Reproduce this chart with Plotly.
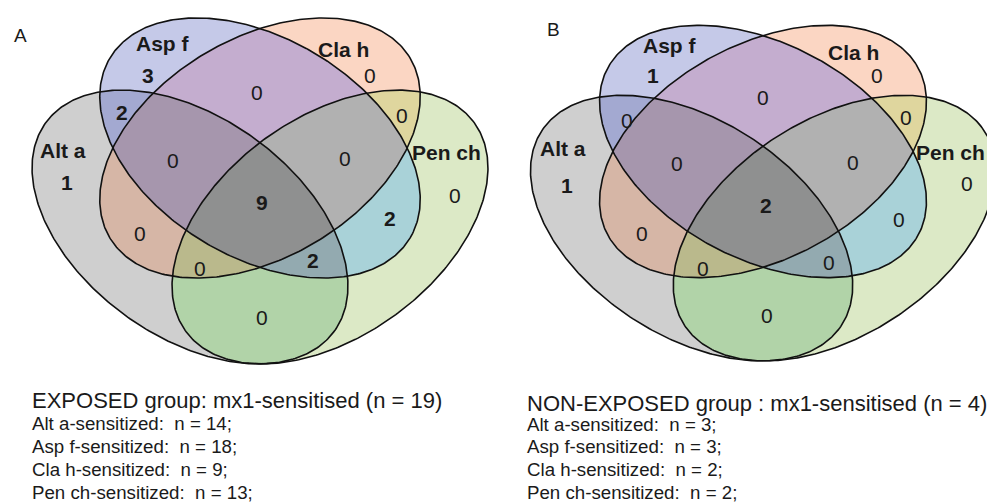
import numpy as np
import plotly.graph_objects as go

# ---------------- data ----------------
set_names = ["Alt a", "Asp f", "Cla h", "Pen ch"]          # bit 1, 2, 4, 8
region_keys = [1, 2, 4, 8, 3, 6, 12, 5, 10, 9, 7, 14, 13, 11, 15]
exposed_counts = [1, 3, 0, 0, 2, 0, 0, 0, 2, 0, 0, 0, 0, 2, 9]
nonexposed_counts = [1, 1, 0, 0, 0, 0, 0, 0, 0, 0, 0, 0, 0, 0, 2]
panel_letters = ["A", "B"]
group_titles = ["EXPOSED group: mx1-sensitised", "NON-EXPOSED group : mx1-sensitised"]

# ---------------- layout / style ----------------
W, H = 987, 503
FONT = "Liberation Sans, Arial, sans-serif"
TXT = "#1a1a1a"

# base ellipse geometry relative to the panel centre (screen coords, y down)
# (ex, ey, a, b, angle_deg)
ellipses = {
    1: (-70.0, 79.5, 178.0, 109.6, 35.8),    # Alt a
    2: (0.0, 0.5, 175.0, 109.4, 31.0),       # Asp f
    4: (0.0, 0.5, 175.0, 109.4, -31.0),      # Cla h
    8: (70.0, 79.5, 178.0, 109.6, -35.8),    # Pen ch
}
# panel transforms: centre x, centre y, scale x, scale y
panels = [(260.0, 147.5, 1.0, 1.0), (763.0, 151.0, 1.02, 0.97)]

region_colors = {1: "#cfcfcf", 2: "#c5c9e8", 3: "#a3a9d1", 4: "#fbd6c3",
                 5: "#d6b6a6", 6: "#c4adcf", 7: "#a696ad", 8: "#dce9c6",
                 9: "#b1d3a8", 10: "#a9d2d8", 11: "#93aab0", 12: "#dfd69e",
                 13: "#bab98c", 14: "#b1b1b1", 15: "#8f9090"}

set_label_pos = [
    {1: (63, 150), 2: (163, 43), 4: (343, 49), 8: (446, 152)},
    {1: (563, 148), 2: (670, 45), 4: (853, 52), 8: (950, 152)},
]
count_pos = [
    {1: (67, 182), 2: (148, 75), 4: (370, 75), 8: (455, 195), 3: (122, 112),
     6: (257, 92), 12: (402, 115), 5: (140, 233), 10: (390, 218), 9: (262, 317),
     7: (173, 160), 14: (345, 158), 13: (200, 268), 11: (313, 260), 15: (262, 202)},
    {1: (567, 185), 2: (653, 75), 4: (877, 75), 8: (967, 183), 3: (627, 120),
     6: (763, 97), 12: (906, 117), 5: (642, 233), 10: (899, 219), 9: (767, 315),
     7: (677, 163), 14: (853, 162), 13: (703, 268), 11: (829, 262), 15: (766, 205)},
]
letter_pos = [(20, 35), (553, 29)]
text_x = [30, 525]
title_y = [400, 403]
line_y0 = [423, 424]
line_dy = [23.0, 22.8]


def inside(u, v, e):
    ex, ey, a, b, ang = e
    t = np.deg2rad(ang)
    du, dv = u - ex, v - ey
    p = du * np.cos(t) + dv * np.sin(t)
    q = -du * np.sin(t) + dv * np.cos(t)
    return (p / a) ** 2 + (q / b) ** 2 <= 1.0


# ---------------- region fill (heatmap of membership) ----------------
xs = np.arange(0, W) + 0.5
ys = np.arange(0, 375) + 0.5
X, Y = np.meshgrid(xs, ys)
mask = np.zeros(X.shape, dtype=int)
for pi, (cx, cy, sx, sy) in enumerate(panels):
    sel = (X < 495) if pi == 0 else (X >= 495)
    U = (X - cx) / sx
    V = (Y - cy) / sy
    for bit, e in ellipses.items():
        mask = mask + np.where(sel & inside(U, V, e), bit, 0)
Z = np.where(mask > 0, mask.astype(float), np.nan)

cs = []
for k in range(1, 16):
    cs.append([(k - 1) / 15, region_colors[k]])
    cs.append([k / 15, region_colors[k]])

fig = go.Figure()
fig.add_trace(go.Heatmap(x=xs, y=ys, z=Z, colorscale=cs, zmin=0.5, zmax=15.5,
                         showscale=False, hoverinfo="skip", zsmooth=False))

# ---------------- outlines ----------------
tt = np.linspace(0, 2 * np.pi, 400)
for (cx, cy, sx, sy) in panels:
    for bit in [1, 2, 4, 8]:
        ex, ey, a, b, ang = ellipses[bit]
        t = np.deg2rad(ang)
        u = ex + a * np.cos(tt) * np.cos(t) - b * np.sin(tt) * np.sin(t)
        v = ey + a * np.cos(tt) * np.sin(t) + b * np.sin(tt) * np.cos(t)
        fig.add_trace(go.Scatter(x=cx + sx * u, y=cy + sy * v, mode="lines",
                                 line=dict(color="#111111", width=1.6),
                                 hoverinfo="skip", showlegend=False))

# ---------------- text ----------------
ann = []
counts_all = [exposed_counts, nonexposed_counts]
for pi in range(2):
    counts = counts_all[pi]
    ann.append(dict(x=letter_pos[pi][0], y=letter_pos[pi][1], text=panel_letters[pi],
                    font=dict(size=19, color=TXT, family=FONT)))
    for bit, name in zip([1, 2, 4, 8], set_names):
        x, y = set_label_pos[pi][bit]
        ann.append(dict(x=x, y=y, text="<b>%s</b>" % name,
                        font=dict(size=21, color=TXT, family=FONT)))
    for key, c in zip(region_keys, counts):
        x, y = count_pos[pi][key]
        txt = "<b>%d</b>" % c if c > 0 else "%d" % c
        ann.append(dict(x=x, y=y, text=txt, font=dict(size=21, color=TXT, family=FONT)))
    total = sum(counts)
    ann.append(dict(x=text_x[pi], y=title_y[pi], xanchor="left",
                    text="%s (n = %d)" % (group_titles[pi], total),
                    font=dict(size=22, color=TXT, family=FONT)))
    for j, (bit, name) in enumerate(zip([1, 2, 4, 8], set_names)):
        n = sum(c for k, c in zip(region_keys, counts) if k & bit)
        ann.append(dict(x=text_x[pi], y=line_y0[pi] + j * line_dy[pi], xanchor="left",
                        text="%s-sensitized:\u00a0 n = %d;" % (name, n),
                        font=dict(size=18.7, color=TXT, family=FONT)))
for a_ in ann:
    a_.update(showarrow=False, xref="x", yref="y")
    a_.setdefault("xanchor", "center")
    a_["yanchor"] = "middle"

fig.update_layout(
    width=W, height=H, autosize=False,
    margin=dict(l=0, r=0, t=0, b=0, pad=0),
    paper_bgcolor="white", plot_bgcolor="white",
    xaxis=dict(range=[0, W], visible=False, fixedrange=True),
    yaxis=dict(range=[H, 0], visible=False, fixedrange=True),
    annotations=ann, showlegend=False,
)
fig.write_html("out.html", config={"displayModeBar": False},
               post_script="document.body.style.margin='0px';")
